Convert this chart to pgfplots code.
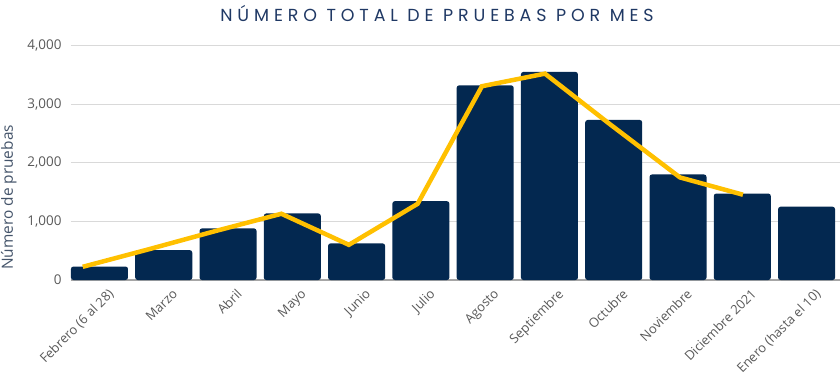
\documentclass[border=0pt]{standalone}
\usepackage{pgfplots}
\pgfplotsset{compat=1.18}
\usepackage{fontspec}
\setmainfont{Open Sans}
\newfontfamily\titlefont[LetterSpace=28]{Poppins}
\definecolor{barnavy}{RGB}{3,40,80}
\definecolor{linegold}{RGB}{255,192,0}
\definecolor{gridgray}{RGB}{217,217,217}
\definecolor{axisgray}{RGB}{166,166,166}
\definecolor{tickgray}{RGB}{89,89,89}
\definecolor{labelblue}{RGB}{68,84,106}
\definecolor{titlenavy}{RGB}{31,56,100}
\begin{document}
\begin{tikzpicture}
\useasboundingbox (-71bp,-98bp) rectangle (769bp,280bp);
\begin{axis}[
  scale only axis, width=769bp, height=234.5bp,
  at={(0,0)}, anchor=south west,
  xmin=-0.443, xmax=11.52, ymin=0, ymax=4000,
  axis line style={draw=none},
  major tick length=0pt,
  ymajorgrids, grid style={draw=gridgray, line width=0.9bp},
  ytick={0,1000,2000,3000,4000},
  extra y ticks={0}, extra y tick labels={},
  extra y tick style={grid style={draw=axisgray, line width=1.1bp}},
  /pgf/number format/1000 sep={,},
  /pgf/number format/assume math mode=true,
  yticklabel style={font=\fontsize{13.5}{14}\selectfont, text=tickgray, xshift=-6bp},
  xtick={0,1,2,3,4,5,6,7,8,9,10,11},
  xticklabels={Febrero (6 al 28),Marzo,Abril,Mayo,Junio,Julio,Agosto,Septiembre,Octubre,Noviembre,Diciembre 2021,Enero (hasta el 10)},
  xticklabel style={rotate=45, anchor=north east, font=\fontsize{13}{13}\selectfont, text=tickgray, inner sep=1bp, xshift=1bp, yshift=-10bp},
  ylabel={Número de pruebas},
  ylabel style={at={(axis description cs:-0.081,0.352)}, anchor=center, font=\fontsize{15.5}{16}\selectfont, text=labelblue},
  title={NÚMERO TOTAL DE PRUEBAS POR MES},
  every axis title/.style={at={(axis description cs:0.476,1)}, anchor=base, yshift=24.5bp, font=\titlefont\fontsize{17.5}{18}\selectfont, text=titlenavy},
  clip=false,
]
\addplot[ybar, bar width=0.887, fill=barnavy, draw=none, rounded corners=2.5bp] coordinates {
  (0,230) (1,510) (2,880) (3,1135) (4,625) (5,1345)
  (6,3320) (7,3550) (8,2730) (9,1800) (10,1475) (11,1250)
};
\addplot[sharp plot, draw=linegold, line width=4.5bp, mark=none] coordinates {
  (-0.26,225) (0.77,525) (1.80,834) (2.83,1130) (3.88,600) (4.95,1300)
  (5.95,3305) (6.93,3520) (7.95,2650) (9.03,1750) (10.01,1455)
};
\end{axis}
\end{tikzpicture}
\end{document}
